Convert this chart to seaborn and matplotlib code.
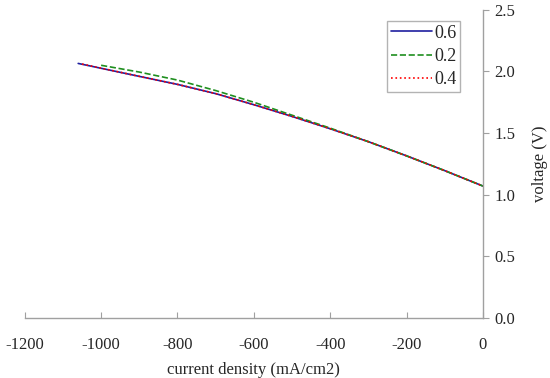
import numpy as np
import pandas as pd
import seaborn as sns
import matplotlib.pyplot as plt

# current density (mA/cm2) and voltage (V) for each series
current_06 = [-1060, -900, -800, -700, -600, -500, -400, -300, -200, -100, 0]
voltage_06 = [2.065, 1.96, 1.895, 1.82, 1.73, 1.635, 1.535, 1.43, 1.315, 1.195, 1.07]

current_02 = [-1000, -900, -800, -700, -600, -500, -400, -300, -200, -100, 0]
voltage_02 = [2.05, 1.995, 1.93, 1.845, 1.75, 1.645, 1.54, 1.43, 1.315, 1.195, 1.07]

current_04 = [-1050, -900, -800, -700, -600, -500, -400, -300, -200, -100, 0]
voltage_04 = [2.06, 1.96, 1.895, 1.82, 1.73, 1.635, 1.535, 1.43, 1.315, 1.195, 1.07]

series_names = ["0.6", "0.2", "0.4"]
x_ticks = [-1200, -1000, -800, -600, -400, -200, 0]
y_ticks = [0.0, 0.5, 1.0, 1.5, 2.0, 2.5]

sns.set_style("white")
plt.rcParams['font.family'] = ['Liberation Serif', 'DejaVu Serif']

fig = plt.figure(figsize=(5.5, 3.78), dpi=100)
ax = fig.add_axes([0.045, 0.159, 0.833, 0.815])

styles = [("#1f1f9f", "-"), ("#1f8f1f", "--"), ("#ff0000", ":")]
data = [(current_06, voltage_06), (current_02, voltage_02), (current_04, voltage_04)]
for name, (x, y), (col, ls) in zip(series_names, data, styles):
    df = pd.DataFrame({"x": x, "y": y})
    sns.lineplot(data=df, x="x", y="y", ax=ax, color=col, linestyle=ls,
                 linewidth=1.2, label=name)

ax.set_xlim(-1200, 0)
ax.set_ylim(0, 2.5)
ax.set_xticks(x_ticks)
ax.set_xticklabels([str(t) for t in x_ticks])
ax.set_yticks(y_ticks)
ax.set_yticklabels([f"{t:.1f}" for t in y_ticks])

ax.yaxis.tick_right()
ax.yaxis.set_label_position("right")
for s in ["top", "left"]:
    ax.spines[s].set_visible(False)
for s in ["bottom", "right"]:
    ax.spines[s].set_color("#a0a0a0")
    ax.spines[s].set_linewidth(1.0)
ax.tick_params(axis="x", direction="in", length=4, color="#a0a0a0",
               labelsize=12, pad=14, bottom=True)
ax.tick_params(axis="y", direction="out", length=4, color="#a0a0a0",
               labelsize=12, pad=4, right=True)

ax.set_xlabel("current density (mA/cm2)", fontsize=12, labelpad=6)
ax.set_ylabel("voltage (V)", fontsize=12, labelpad=12)

leg = ax.legend(loc="upper right", bbox_to_anchor=(0.95, 0.964), fontsize=13,
                frameon=True, fancybox=False, handlelength=2.3, handletextpad=0.1,
                borderpad=0.2, labelspacing=0.35, borderaxespad=0)
leg.get_frame().set_edgecolor("#a0a0a0")
leg.get_frame().set_linewidth(1.0)

fig.savefig("out.png", dpi=100)
